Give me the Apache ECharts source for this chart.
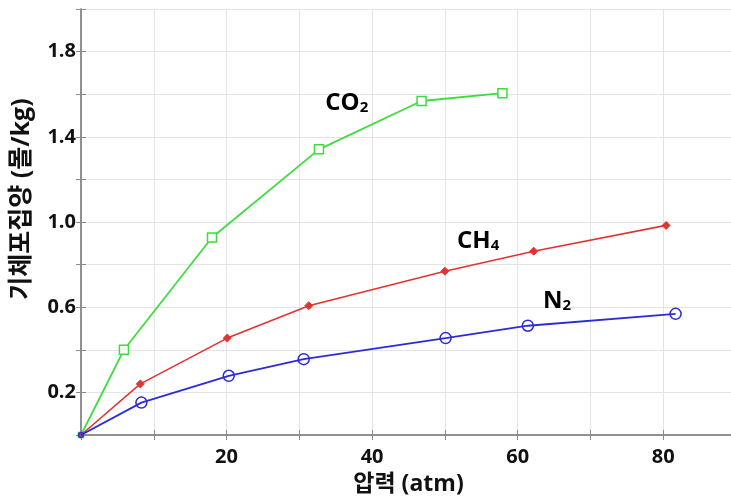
<!DOCTYPE html>
<html><head><meta charset="utf-8">
<script src="https://cdn.jsdelivr.net/npm/echarts@6/dist/echarts.min.js"></script>
<style>html,body{margin:0;padding:0;background:#fff}#c{width:731px;height:497px}</style>
</head><body><div id="c"></div>
<script>
var co2X = [0, 5.9, 18.0, 32.7, 46.8, 57.9];
var co2Y = [0, 0.40, 0.927, 1.341, 1.568, 1.605];
var ch4X = [0, 8.15, 20.1, 31.3, 50.0, 62.2, 80.4];
var ch4Y = [0, 0.24, 0.455, 0.607, 0.769, 0.863, 0.984];
var n2X = [0, 8.3, 20.3, 30.6, 50.1, 61.4, 81.7];
var n2Y = [0, 0.152, 0.278, 0.356, 0.455, 0.513, 0.569];
var xTickLabels = [20, 40, 60, 80];
var yTickLabels = [0.2, 0.6, 1.0, 1.4, 1.8];
var xTitle = '압력 (atm)';
var yTitle = '기체포집양 (몰/kg)';
var annotations = [
  {base: 'CO', sub: '2', x: 33.5, y: 1.57},
  {base: 'CH', sub: '4', x: 51.6, y: 0.92},
  {base: 'N', sub: '2', x: 63.4, y: 0.64}
];

function pairs(xs, ys){ return xs.map(function(x,i){ return [x, ys[i]]; }); }
var FONT = '"Open Sans","Noto Sans CJK KR",sans-serif';
var chart = echarts.init(document.getElementById('c'), null, {renderer:'canvas'});
var axisLineGray = {show:true, lineStyle:{color:'#8a8a8a', width:1.5}};
var gridLine = {show:true, lineStyle:{color:'#e4e4e4', width:1}};
function originSmall(big){ return function(v){ return v[0] === 0 ? 5 : big; }; }
var option = {
  animation:false,
  grid:{left:81, top:9, width:655, height:426, containLabel:false, outerBoundsMode:'none'},
  xAxis:[{
    type:'value', min:0, max:90, interval:10, position:'bottom',
    axisLine:axisLineGray, splitLine:gridLine,
    axisTick:{show:true, inside:true, length:5, lineStyle:{color:'#8a8a8a'}},
    axisLabel:{margin:12, color:'#111', fontSize:20, fontWeight:'bold', fontFamily:FONT,
      formatter:function(v){ return xTickLabels.indexOf(Math.round(v))>=0 ? String(Math.round(v)) : ''; }},
    name:xTitle, nameLocation:'middle', nameGap:38,
    nameTextStyle:{color:'#111', fontSize:23, fontWeight:'bold', fontFamily:FONT}
  },{
    type:'value', min:0, max:90, interval:10, position:'top',
    axisLine:axisLineGray, splitLine:{show:false},
    axisTick:{show:true, inside:true, length:5, lineStyle:{color:'#8a8a8a'}},
    axisLabel:{show:false}
  }],
  yAxis:[{
    type:'value', min:0, max:2.0, interval:0.2, position:'left',
    axisLine:axisLineGray, splitLine:gridLine,
    axisTick:{show:true, inside:true, length:5, lineStyle:{color:'#8a8a8a'}},
    axisLabel:{margin:5, color:'#111', fontSize:20, fontWeight:'bold', fontFamily:FONT,
      formatter:function(v){
        for (var i=0;i<yTickLabels.length;i++){ if (Math.abs(yTickLabels[i]-v)<1e-6) return yTickLabels[i].toFixed(1); }
        return '';
      }},
    name:yTitle, nameLocation:'middle', nameGap:47, nameRotate:90,
    nameTextStyle:{color:'#111', fontSize:25, fontWeight:'bold', fontFamily:FONT, padding:[0,0,0,46]}
  },{
    type:'value', min:0, max:2.0, interval:0.2, position:'right',
    axisLine:axisLineGray, splitLine:{show:false},
    axisTick:{show:true, inside:true, length:5, lineStyle:{color:'#8a8a8a'}},
    axisLabel:{show:false}
  }],
  series:[
    {type:'line', name:'CO2', data:pairs(co2X, co2Y), symbol:'rect', symbolSize:originSmall(9),
      itemStyle:{color:'#fff', borderColor:'#3edc3e', borderWidth:1.5},
      lineStyle:{color:'#3edc3e', width:1.8}, z:3},
    {type:'line', name:'CH4', data:pairs(ch4X, ch4Y), symbol:'diamond', symbolSize:originSmall(8),
      itemStyle:{color:'#e23333', borderColor:'#e23333', borderWidth:1},
      lineStyle:{color:'#e23333', width:1.6}, z:4},
    {type:'line', name:'N2', data:pairs(n2X, n2Y), symbol:'circle', symbolSize:originSmall(11),
      itemStyle:{color:'rgba(255,255,255,0)', borderColor:'#2b2bd9', borderWidth:1.5},
      lineStyle:{color:'#2b2bd9', width:1.8}, z:5},
    {type:'scatter', data:annotations.map(function(a){ return {value:[a.x,a.y], base:a.base, sub:a.sub}; }),
      symbolSize:1, itemStyle:{opacity:0}, silent:true, z:6,
      label:{show:true, position:'right', distance:0, opacity:1,
        color:'#000', textBorderWidth:0,
        formatter:function(p){ return '{b|'+p.data.base+'}{s|'+p.data.sub+'}'; },
        rich:{
          b:{fontSize:24, fontWeight:'bold', color:'#000', fontFamily:FONT, verticalAlign:'bottom'},
          s:{fontSize:15, fontWeight:'bold', color:'#000', fontFamily:FONT, padding:[14,0,0,0], verticalAlign:'bottom'}
        }}}
  ]
};
chart.setOption(option);
</script></body></html>
